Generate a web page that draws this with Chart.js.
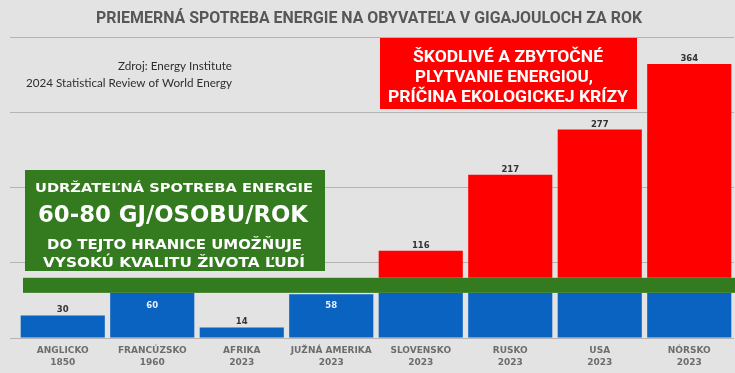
<!DOCTYPE html>
<html>
<head>
<meta charset="utf-8">
<script src="https://cdn.jsdelivr.net/npm/chart.js@4.4.1/dist/chart.umd.min.js"></script>
<style>
  html, body { margin: 0; padding: 0; background: #e3e3e3; }
  #wrap { width: 735px; height: 373px; position: relative; }
</style>
</head>
<body>
<div id="wrap"><canvas id="c" width="735" height="373"></canvas></div>
<script>
// ---- data ----
const categories = [
  ['ANGLICKO', '1850'],
  ['FRANCÚZSKO', '1960'],
  ['AFRIKA', '2023'],
  ['JUŽNÁ AMERIKA', '2023'],
  ['SLOVENSKO', '2023'],
  ['RUSKO', '2023'],
  ['USA', '2023'],
  ['NÓRSKO', '2023']
];
const values = [30, 60, 14, 58, 116, 217, 277, 364];
const sustainableRange = [60, 80];
const yTicks = [0, 100, 200, 300, 400];

const titleText = 'PRIEMERNÁ SPOTREBA ENERGIE NA OBYVATEĽA V GIGAJOULOCH ZA ROK';
const sourceLines = ['Zdroj: Energy Institute', '2024 Statistical Review of World Energy'];
const greenLines = ['UDRŽATEĽNÁ SPOTREBA ENERGIE', '60-80 GJ/OSOBU/ROK', 'DO TEJTO HRANICE UMOŽŇUJE', 'VYSOKÚ KVALITU ŽIVOTA ĽUDÍ'];
const redLines = ['ŠKODLIVÉ A ZBYTOČNÉ', 'PLYTVANIE ENERGIOU,', 'PRÍČINA EKOLOGICKEJ KRÍZY'];

// ---- colours ----
const BLUE = '#0b63c1';
const RED = '#ff0000';
const GREEN = '#347a1f';

const blueData = values.map(v => [0, Math.min(v, sustainableRange[0])]);
const redData = values.map(v => v > sustainableRange[1] ? [sustainableRange[1], v] : null);

function fitText(ctx, text, x, baseline, width, font, color, align) {
  ctx.save();
  ctx.font = font;
  const w = ctx.measureText(text).width;
  const s = width / w;
  ctx.translate(x, baseline);
  ctx.scale(s, 1);
  ctx.textAlign = align || 'center';
  ctx.textBaseline = 'alphabetic';
  ctx.fillStyle = color;
  ctx.fillText(text, 0, 0);
  ctx.restore();
}

const overlay = {
  id: 'overlay',
  afterDatasetsDraw(chart) {
    const ctx = chart.ctx;
    const y = chart.scales.y;
    const area = chart.chartArea;

    // sustainable band
    const yTop = y.getPixelForValue(sustainableRange[1]);
    const yBot = y.getPixelForValue(sustainableRange[0]);
    ctx.save();
    ctx.fillStyle = GREEN;
    ctx.fillRect(area.left + 5, yTop, chart.width - area.left - 5, yBot - yTop);
    ctx.restore();

    // value labels
    const meta = chart.getDatasetMeta(0);
    values.forEach((v, i) => {
      const bar = meta.data[i];
      const top = y.getPixelForValue(v);
      ctx.save();
      ctx.font = 'bold 8.5px "DejaVu Sans"';
      ctx.textAlign = 'center';
      ctx.textBaseline = 'alphabetic';
      if (v >= 50 && v <= sustainableRange[1]) {
        ctx.fillStyle = '#e8eefc';
        ctx.fillText(String(v), bar.x, yBot + 15);
      } else {
        ctx.fillStyle = '#333333';
        ctx.fillText(String(v), bar.x, top - 3);
      }
      ctx.restore();
    });

    // title
    fitText(ctx, titleText, 369, 23, 546, 'bold 17px Roboto', '#575757', 'center');

    // source
    fitText(ctx, sourceLines[0], 232, 70, 114, '12px Lato', '#2e2e2e', 'right');
    fitText(ctx, sourceLines[1], 232, 87, 206, '12px Lato', '#2e2e2e', 'right');

    // green box
    ctx.save();
    ctx.fillStyle = GREEN;
    ctx.fillRect(25, 170, 300, 101);
    ctx.restore();
    fitText(ctx, greenLines[0], 174, 192, 278, 'bold 13px "DejaVu Sans"', '#ffffff', 'center');
    fitText(ctx, greenLines[1], 173, 222, 270, 'bold 23px "DejaVu Sans"', '#ffffff', 'center');
    fitText(ctx, greenLines[2], 174.5, 249, 255, 'bold 14px "DejaVu Sans"', '#ffffff', 'center');
    fitText(ctx, greenLines[3], 174, 267, 262, 'bold 14px "DejaVu Sans"', '#ffffff', 'center');

    // red box
    ctx.save();
    ctx.fillStyle = RED;
    ctx.fillRect(380, 38, 257, 71);
    ctx.restore();
    fitText(ctx, redLines[0], 508, 62, 190, 'bold 17px Roboto', '#ffffff', 'center');
    fitText(ctx, redLines[1], 504, 82, 178, 'bold 17px Roboto', '#ffffff', 'center');
    fitText(ctx, redLines[2], 508, 102, 240, 'bold 17px Roboto', '#ffffff', 'center');
  }
};

new Chart(document.getElementById('c'), {
  type: 'bar',
  data: {
    labels: categories,
    datasets: [
      { data: blueData, backgroundColor: BLUE, borderWidth: 0, grouped: false },
      { data: redData, backgroundColor: RED, borderWidth: 0, grouped: false }
    ]
  },
  options: {
    responsive: false,
    animation: false,
    devicePixelRatio: 1,
    layout: { padding: { left: 10, right: 1, top: 37, bottom: 0 } },
    plugins: { legend: { display: false }, tooltip: { enabled: false }, title: { display: false } },
    datasets: { bar: { categoryPercentage: 1, barPercentage: 0.94 } },
    scales: {
      x: {
        grid: { display: false, drawTicks: false },
        border: { display: false },
        ticks: {
          color: '#6d6d6d',
          font: { family: 'DejaVu Sans', weight: 'bold', size: 9, lineHeight: 1.4 },
          padding: 6,
          maxRotation: 0,
          autoSkip: false
        },
        afterFit(scale) { scale.height = 35; }
      },
      y: {
        min: 0,
        max: 400,
        afterBuildTicks(scale) { scale.ticks = yTicks.map(v => ({ value: v })); },
        ticks: { display: false },
        grid: { color: '#b4b4b4', lineWidth: 1, drawTicks: true, tickLength: 8 },
        border: { display: false },
        afterFit(scale) { scale.width = 8; }
      }
    }
  },
  plugins: [overlay]
});
</script>
</body>
</html>
